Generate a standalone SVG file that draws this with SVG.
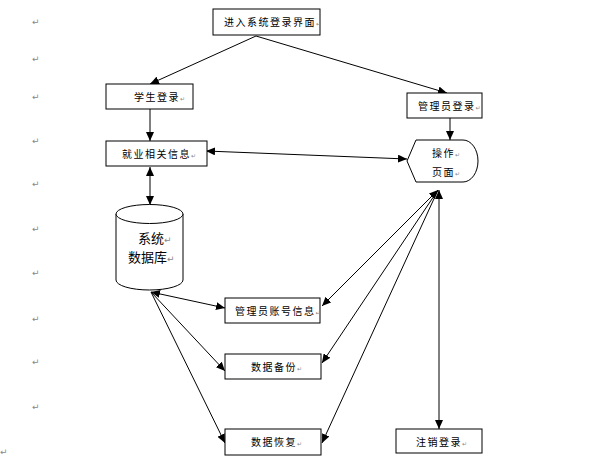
<svg xmlns="http://www.w3.org/2000/svg" width="599" height="466" viewBox="0 0 599 466">
<style>
.box{fill:#fff;stroke:#000;stroke-width:1}
.t{font-family:"Noto Sans CJK SC","Noto Sans CJK JP",sans-serif;font-size:10px;fill:#000;letter-spacing:1.5px}
.db{font-family:"Noto Sans CJK SC","Noto Sans CJK JP",sans-serif;font-size:13px;fill:#000}
.m{font-family:"DejaVu Sans",sans-serif;font-size:6px;fill:#888;letter-spacing:0}
.pm{font-family:"DejaVu Sans",sans-serif;font-size:9px;fill:#888}
.c{stroke:#000;stroke-width:1;fill:none}
</style>
<defs>
<marker id="ah" markerUnits="userSpaceOnUse" markerWidth="10" markerHeight="8" refX="9" refY="4" orient="auto-start-reverse" viewBox="0 0 10 8">
<path d="M0,0 L9,4 L0,8 Z" fill="#000"/>
</marker>
</defs>
<g id="marks">
<text class="pm" x="32" y="25">↵</text>
<text class="pm" x="32" y="62">↵</text>
<text class="pm" x="32" y="100">↵</text>
<text class="pm" x="32" y="144">↵</text>
<text class="pm" x="32" y="187">↵</text>
<text class="pm" x="32" y="232">↵</text>
<text class="pm" x="32" y="276">↵</text>
<text class="pm" x="32" y="322">↵</text>
<text class="pm" x="32" y="365">↵</text>
<text class="pm" x="32" y="410">↵</text>
<text class="pm" x="0" y="455">↵</text>
</g>
<g id="connectors">
<line class="c" x1="256" y1="36" x2="150" y2="84" marker-end="url(#ah)"/>
<line class="c" x1="256" y1="36" x2="447" y2="93" marker-end="url(#ah)"/>
<line class="c" x1="150" y1="109" x2="150" y2="141" marker-end="url(#ah)"/>
<line class="c" x1="206" y1="151" x2="407" y2="159" marker-start="url(#ah)" marker-end="url(#ah)"/>
<line class="c" x1="450" y1="118" x2="450" y2="140" marker-end="url(#ah)"/>
<line class="c" x1="150" y1="167" x2="150" y2="205" marker-start="url(#ah)" marker-end="url(#ah)"/>
<line class="c" x1="151" y1="292" x2="225" y2="308" marker-start="url(#ah)" marker-end="url(#ah)"/>
<line class="c" x1="151" y1="292" x2="225" y2="371" marker-end="url(#ah)"/>
<line class="c" x1="151" y1="292" x2="225" y2="443" marker-end="url(#ah)"/>
<line class="c" x1="438" y1="190" x2="322" y2="306" marker-start="url(#ah)" marker-end="url(#ah)"/>
<line class="c" x1="438" y1="190" x2="322" y2="363" marker-end="url(#ah)"/>
<line class="c" x1="438" y1="190" x2="322" y2="443" marker-end="url(#ah)"/>
<line class="c" x1="439" y1="190" x2="439" y2="429" marker-start="url(#ah)" marker-end="url(#ah)"/>
</g>
<g id="login">
<rect class="box" x="213" y="9" width="107" height="26"/>
<text class="t" x="224" y="26">进入系统登录界面<tspan class="m">↵</tspan></text>
</g>
<g id="student">
<rect class="box" x="106" y="84" width="87" height="25"/>
<text class="t" x="134" y="101">学生登录<tspan class="m">↵</tspan></text>
</g>
<g id="admin">
<rect class="box" x="407" y="93" width="75" height="25"/>
<text class="t" x="418" y="110">管理员登录<tspan class="m">↵</tspan></text>
</g>
<g id="jobinfo">
<rect class="box" x="106" y="141" width="101" height="25"/>
<text class="t" x="122" y="158">就业相关信息<tspan class="m">↵</tspan></text>
</g>
<g id="operation">
<path class="box" d="M416,140 H463 A15,21 0 0 1 463,182 H416 L407,161 Z"/>
<text class="t" x="432" y="157">操作<tspan class="m">↵</tspan></text>
<text class="t" x="432" y="176">页面<tspan class="m">↵</tspan></text>
</g>
<g id="database">
<path class="box" d="M116,214 V280 A33.5,10 0 0 0 183,280 V214"/>
<ellipse class="box" cx="149.5" cy="214" rx="33.5" ry="9.5"/>
<text class="db" x="138" y="243">系统<tspan class="pm">↵</tspan></text>
<text class="db" x="128" y="262">数据库<tspan class="pm">↵</tspan></text>
</g>
<g id="account">
<rect class="box" x="225" y="298" width="95" height="25"/>
<text class="t" x="235" y="315">管理员账号信息<tspan class="m">↵</tspan></text>
</g>
<g id="backup">
<rect class="box" x="225" y="354" width="96" height="25"/>
<text class="t" x="251" y="371">数据备份<tspan class="m">↵</tspan></text>
</g>
<g id="restore">
<rect class="box" x="225" y="429" width="96" height="26"/>
<text class="t" x="251" y="446">数据恢复<tspan class="m">↵</tspan></text>
</g>
<g id="logout">
<rect class="box" x="396" y="429" width="86" height="24"/>
<text class="t" x="416" y="446">注销登录<tspan class="m">↵</tspan></text>
</g>
</svg>
